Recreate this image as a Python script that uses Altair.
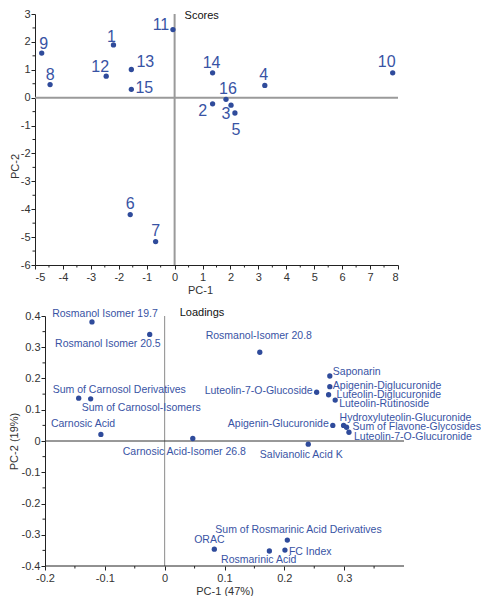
import altair as alt
import pandas as pd

FONT = "Liberation Sans"
BLUE_DOT = "#2F4B9B"
BLUE_TXT = "#3853A4"
AXIS_COL = "#222222"

# ---------------- Scores (top panel) ----------------
score_ids = [str(i) for i in range(1, 17)]
score_pc1 = [-2.19, 1.36, 2.02, 3.23, 2.16, -1.59, -0.68, -4.46,
             -4.76, 7.81, -0.06, -2.45, -1.55, 1.36, -1.55, 1.84]
score_pc2 = [1.89, -0.22, -0.27, 0.44, -0.55, -4.19, -5.16, 0.47,
             1.60, 0.89, 2.44, 0.77, 1.01, 0.89, 0.30, -0.06]
# label placement relative to the point (pixels)
score_label_dx = [-2, -10, -5, -1, 1, 0, 0, 0, 2, -6, -12, -6, 14, -1, 13, 2]
score_label_dy = [-8, 7, 9, -10, 17, -11, -11, -10, -9, -11, -5, -9, -7, -10, -1, -10]

score_x_major = list(range(-5, 9))                       # -5 ... 8
score_x_minor = [i + 0.5 for i in range(-5, 8)]
score_y_major = list(range(-6, 4))                       # -6 ... 3
score_y_minor = [i + 0.5 for i in range(-6, 3)]

# ---------------- Loadings (bottom panel) ----------------
load_names = [
    "Rosmanol Isomer 19.7", "Rosmanol Isomer 20.5", "Rosmanol-Isomer 20.8",
    "Saponarin", "Apigenin-Diglucuronide", "Luteolin-7-O-Glucoside",
    "Luteolin-Diglucuronide", "Luteolin-Rutinoside", "Sum of Carnosol Derivatives",
    "Sum of Carnosol-Isomers", "Carnosic Acid", "Apigenin-Glucuronide",
    "Hydroxyluteolin-Glucuronide", "Sum of Flavone-Glycosides", "Luteolin-7-O-Glucuronide",
    "Carnosic Acid-Isomer 26.8", "Salvianolic Acid K", "Sum of Rosmarinic Acid Derivatives",
    "ORAC", "FC Index", "Rosmarinic Acid",
]
load_pc1 = [-0.1215, -0.025, 0.159, 0.276, 0.276, 0.254, 0.274, 0.285, -0.1437,
            -0.1237, -0.1066, 0.281, 0.299, 0.304, 0.308, 0.047, 0.240, 0.205,
            0.083, 0.201, 0.175]
load_pc2 = [0.381, 0.341, 0.284, 0.208, 0.174, 0.156, 0.148, 0.131, 0.137,
            0.135, 0.021, 0.050, 0.050, 0.044, 0.028, 0.008, -0.010, -0.317,
            -0.346, -0.349, -0.352]
load_label_align = ["center", "right", "center", "left", "left", "right", "left", "left",
                    "left", "left", "left", "right", "left", "left", "left", "left",
                    "center", "left", "center", "left", "right"]
load_label_dx = [13, 11, -1, 3, 3, -4, 8, 4, -26, -9, -50, -4, -4, 6, 5, -70, -7, -72, -5, 4, 27]
load_label_dy = [-8, 10, -16, -4, -1, -1, 0, 4, -8, 9, -10, -1, -7, 0, 5, 13, 11, -10, -9, 2, 9]

load_x_major = [round(i * 0.1, 1) for i in range(-2, 4)]          # -0.2 ... 0.3
load_x_minor = [round(i * 0.1 + 0.05, 2) for i in range(-2, 4)]   # -0.15 ... 0.35
load_y_major = [round(i * 0.1, 1) for i in range(-4, 5)]          # -0.4 ... 0.4
load_y_minor = [round(i * 0.1 + 0.05, 2) for i in range(-4, 4)]

scores = pd.DataFrame({"id": score_ids, "pc1": score_pc1, "pc2": score_pc2,
                       "ldx": score_label_dx, "ldy": score_label_dy})
loads = pd.DataFrame({"name": load_names, "pc1": load_pc1, "pc2": load_pc2,
                      "align": load_label_align, "ldx": load_label_dx, "ldy": load_label_dy})
zero = pd.DataFrame({"v": [0]})

int_label = "(datum.value < 0 ? '-' : '') + format(abs(datum.value), 'd')"
dec_label = "(datum.value < -1e-9 ? '-' : '') + format(abs(datum.value), '.1~f')"
MAJOR, MINOR = 4, 2.5


def axis(values, label_expr, title, **kw):
    return alt.Axis(values=values, tickCount=100, labelExpr=label_expr, title=title,
                    labelOverlap=False, tickSize=MAJOR, **kw)


# ---- top chart ----
TW, TH = 363, 251
X1, Y1 = [-5, 8], [-6, 3]
sx1 = alt.Scale(domain=X1, nice=False, zero=False)
sy1 = alt.Scale(domain=Y1, nice=False, zero=False)

top_zero_v = alt.Chart(zero).mark_rule(color="#9a9a9a", strokeWidth=2).encode(
    x=alt.X("v:Q", scale=sx1))
top_zero_h = alt.Chart(zero).mark_rule(color="#9a9a9a", strokeWidth=2).encode(
    y=alt.Y("v:Q", scale=sy1))
top_minor_x = alt.Chart(pd.DataFrame({"v": score_x_minor})).mark_rule(color=AXIS_COL).encode(
    x="v:Q", y=alt.value(TH), y2=alt.value(TH + MINOR))
top_minor_y = alt.Chart(pd.DataFrame({"v": score_y_minor})).mark_rule(color=AXIS_COL).encode(
    y="v:Q", x=alt.value(0), x2=alt.value(-MINOR))
top_pts = alt.Chart(scores).mark_circle(size=28, color=BLUE_DOT, opacity=1).encode(
    x=alt.X("pc1:Q", scale=sx1,
            axis=axis(score_x_major, int_label, "PC-1", titleX=165, titlePadding=2, labelPadding=2)),
    y=alt.Y("pc2:Q", scale=sy1,
            axis=axis(score_y_major, int_label, "PC-2", titleY=152, titlePadding=0, labelPadding=1)),
)
top_lbl = alt.Chart(scores).transform_calculate(
    lx=f"datum.pc1 + datum.ldx * {(X1[1] - X1[0]) / TW}",
    ly=f"datum.pc2 - datum.ldy * {(Y1[1] - Y1[0]) / TH}",
).mark_text(fontSize=16, font=FONT, color=BLUE_TXT, baseline="middle").encode(
    x="lx:Q", y="ly:Q", text="id:N")
top_title = alt.Chart(zero).mark_text(fontSize=11, font=FONT, color="#111", align="left",
                                      baseline="middle", dx=10).encode(
    x="v:Q", y=alt.value(2), text=alt.value("Scores"))

top = alt.layer(top_zero_v, top_zero_h, top_minor_x, top_minor_y, top_pts, top_lbl,
                top_title).properties(width=TW, height=TH)

# ---- bottom chart ----
# the loadings panel's axis sits SHIFT px to the right of the scores panel's axis
SHIFT = 10
BW, BH = 359, 250
X2, Y2 = [-0.2, 0.4], [-0.4, 0.4]
ux2 = (X2[1] - X2[0]) / BW
sx2 = alt.Scale(domain=[X2[0] - SHIFT * ux2, X2[1]], nice=False, zero=False)
sy2 = alt.Scale(domain=Y2, nice=False, zero=False)

bot_zero_v = alt.Chart(zero).mark_rule(color="#8a8a8a", strokeWidth=1).encode(
    x=alt.X("v:Q", scale=sx2))
bot_zero_h = alt.Chart(zero).mark_rule(color="#333333", strokeWidth=1).encode(
    y=alt.Y("v:Q", scale=sy2), x=alt.datum(X2[0]), x2=alt.datum(X2[1]))
bot_xline = alt.Chart(zero).mark_rule(color=AXIS_COL, strokeWidth=1).encode(
    y=alt.value(BH), x=alt.datum(X2[0]), x2=alt.datum(X2[1]))
bot_minor_x = alt.Chart(pd.DataFrame({"v": load_x_minor})).mark_rule(color=AXIS_COL).encode(
    x="v:Q", y=alt.value(BH), y2=alt.value(BH + MINOR))
bot_minor_y = alt.Chart(pd.DataFrame({"v": load_y_minor})).mark_rule(color=AXIS_COL).encode(
    y="v:Q", x=alt.value(SHIFT), x2=alt.value(SHIFT - MINOR))
bot_pts = alt.Chart(loads).mark_circle(size=28, color=BLUE_DOT, opacity=1).encode(
    x=alt.X("pc1:Q", scale=sx2,
            axis=axis(load_x_major, dec_label, "PC-1 (47%)", domain=False,
                      titleX=SHIFT + BW / 2, titlePadding=2, labelPadding=2)),
    y=alt.Y("pc2:Q", scale=sy2,
            axis=axis(load_y_major, dec_label, "PC-2 (19%)", offset=-SHIFT,
                      titlePadding=2, labelPadding=1)),
)
bot_lbls = []
for a in ["left", "center", "right"]:
    bot_lbls.append(
        alt.Chart(loads).transform_filter(alt.datum.align == a).transform_calculate(
            lx=f"datum.pc1 + datum.ldx * {ux2}",
            ly=f"datum.pc2 - datum.ldy * {(Y2[1] - Y2[0]) / BH}",
        )
        .mark_text(fontSize=10.5, font=FONT, color=BLUE_TXT, baseline="middle", align=a)
        .encode(x="lx:Q", y="ly:Q", text="name:N"))
bot_title = alt.Chart(zero).mark_text(fontSize=11, font=FONT, color="#111", align="left",
                                      baseline="middle", dx=15).encode(
    x="v:Q", y=alt.value(-3), text=alt.value("Loadings"))

bottom = alt.layer(bot_zero_v, bot_zero_h, bot_xline, bot_minor_x, bot_minor_y, bot_pts,
                   *bot_lbls, bot_title).properties(width=BW + SHIFT, height=BH)

chart = alt.concat(top, bottom, columns=1, spacing=12, align="none").properties(
    padding=0
).configure_view(
    stroke=None
).configure_axis(
    grid=False, domainColor=AXIS_COL, tickColor=AXIS_COL, domainWidth=1, tickWidth=1,
    labelColor="#333333", labelFont=FONT, labelFontSize=11,
    titleColor="#333333", titleFont=FONT, titleFontSize=11, titleFontWeight="normal",
)

chart.save("out.html", embed_options={"renderer": "svg", "actions": False})
